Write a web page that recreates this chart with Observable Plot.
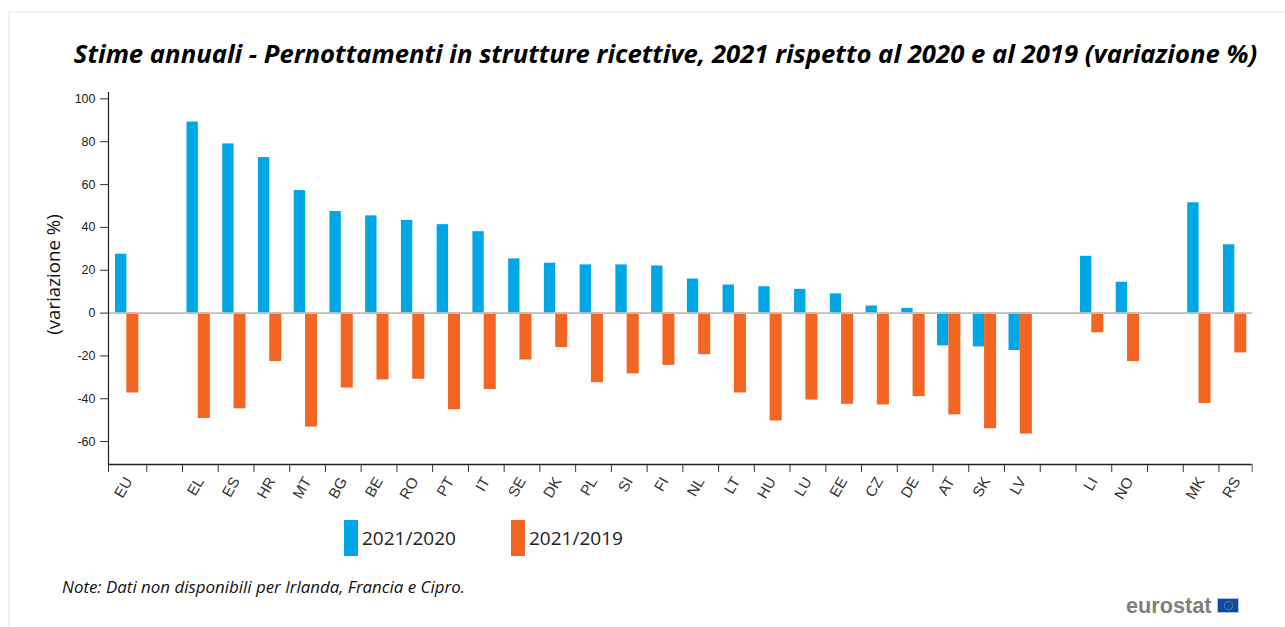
<!DOCTYPE html>
<html><head><meta charset="utf-8">
<script src="https://cdn.jsdelivr.net/npm/d3@7"></script>
<script src="https://cdn.jsdelivr.net/npm/@observablehq/plot@0.6"></script>
<style>
html,body{margin:0;padding:0;background:#fff;width:1285px;height:627px;overflow:hidden}
#page{position:relative;width:1285px;height:627px;font-family:"Open Sans",sans-serif}
#frame{position:absolute;left:8px;top:11px;width:1290px;height:640px;border:2px solid #f1f1f1;box-sizing:border-box}
#title{position:absolute;left:0;top:39px;width:1331px;text-align:center;font:italic 700 25.7px/30px "Open Sans",sans-serif;color:#000;white-space:nowrap}
#chart{position:absolute;left:0;top:80px}
.leg{position:absolute;top:520px;width:14px;height:36px}
.legt{position:absolute;top:525px;font:19px/26px "Open Sans",sans-serif;color:#222}
#note{position:absolute;left:62px;top:576px;font:italic 16.9px/22px "Open Sans",sans-serif;color:#111;white-space:nowrap}
#logo{position:absolute;left:1126px;top:594px;font:700 21.7px/24px "Liberation Sans",sans-serif;color:#7f7f7f}
#flag{position:absolute;left:1217px;top:598px;width:22px;height:15px;background:#0f4a9e;box-sizing:border-box;border:1px solid #a9c3e6}
#flag i{position:absolute;left:6px;top:2px;width:9px;height:9px;box-sizing:border-box;border:1px dotted #b5b04a;border-radius:50%}
</style></head><body>
<div id="page">
<div id="frame"></div>
<div id="title">Stime annuali - Pernottamenti in strutture ricettive, 2021 rispetto al 2020 e al 2019 (variazione %)</div>
<div id="chart"></div>
<div class="leg" style="left:344px;background:#00a7e6"></div><div class="legt" style="left:362px">2021/2020</div>
<div class="leg" style="left:511px;background:#f26522"></div><div class="legt" style="left:529px">2021/2019</div>
<div id="note">Note: Dati non disponibili per Irlanda, Francia e Cipro.</div>
<div id="logo">eurostat</div><div id="flag"><i></i></div>
</div>
<script>
const categories=["EU"," ","EL","ES","HR","MT","BG","BE","RO","PT","IT","SE","DK","PL","SI","FI","NL","LT","HU","LU","EE","CZ","DE","AT","SK","LV","  ","LI","NO","   ","MK","RS"];
const v2020=[27.5,null,89.2,79,72.6,57.2,47.4,45.4,43.3,41.3,38,25.3,23.3,22.5,22.5,22,15.9,13.1,12.3,11.1,9,3.3,2.2,-15.3,-15.8,-17.5,null,26.5,14.4,null,51.5,31.9];
const v2019=[-37.3,null,-49.2,-44.7,-22.6,-53.2,-35,-31.2,-30.9,-45.1,-35.7,-21.9,-16.1,-32.5,-28.4,-24.4,-19.4,-37.3,-50.4,-40.6,-42.6,-42.9,-39,-47.5,-54,-56.5,null,-9.2,-22.6,null,-42.2,-18.6];
const yTicks=[-60,-40,-20,0,20,40,60,80,100];
const rows20=categories.map((c,i)=>({c,v:v2020[i]})).filter(d=>d.v!=null);
const rows19=categories.map((c,i)=>({c,v:v2019[i]})).filter(d=>d.v!=null);
const band=35.74;
const plot=Plot.plot({
  width:1285,height:420,
  marginLeft:108,marginRight:33.3,marginTop:12,marginBottom:36,
  style:{background:"transparent",overflow:"visible"},
  x:{type:"band",domain:categories,padding:0,round:false,label:null},
  y:{domain:[-70.7,103],range:[384,12],label:null},
  marks:[
    Plot.barY(rows20,{x:"c",y:"v",fill:"#00a7e6",insetLeft:7,insetRight:17.4}),
    Plot.barY(rows19,{x:"c",y:"v",fill:"#f26522",insetLeft:18.3,insetRight:5.4}),
    Plot.ruleY([0],{stroke:"#bdbdbd",strokeWidth:1.6}),
    Plot.axisX({ticks:categories.slice(1),tickSize:8,dx:-band/2+2.5,text:null,stroke:"#333",label:null}),
    Plot.axisX({ticks:["EU"],tickSize:8,dx:-band/2,text:null,stroke:"#333",label:null}),
    Plot.axisX({ticks:["RS"],tickSize:8,dx:band/2,text:null,stroke:"#555",label:null}),
    Plot.axisX({ticks:categories,tickSize:0,tickPadding:14,tickRotate:-60,dx:2.5,tickFormat:d=>d.trim(),label:null,fill:"#333"}),
    Plot.axisY({ticks:yTicks,tickSize:8,tickPadding:5,tickFormat:d=>String(d),stroke:"#333",label:null,fill:"#222"}),
    Plot.ruleX([categories[0]],{dx:-band/2,stroke:"#222",strokeWidth:1.2}),
    Plot.ruleY([-70.7],{stroke:"#222",strokeWidth:1.4}),
    Plot.text(["(variazione %)"],{frameAnchor:"left",textAnchor:"middle",dx:-54,dy:-4,rotate:-90,fill:"#111"})
  ]
});
document.getElementById("chart").appendChild(plot);
d3.select(plot).selectAll("text").each(function(){
  const t=this.textContent;
  if(/^-?\d+$/.test(t)) this.style.font="12.5px 'Liberation Sans',Arial,sans-serif";
  else if(t.startsWith("(")) this.style.font="18.7px 'Open Sans',sans-serif";
  else this.style.font="15px 'Liberation Sans',Arial,sans-serif";
});
</script>
</body></html>
